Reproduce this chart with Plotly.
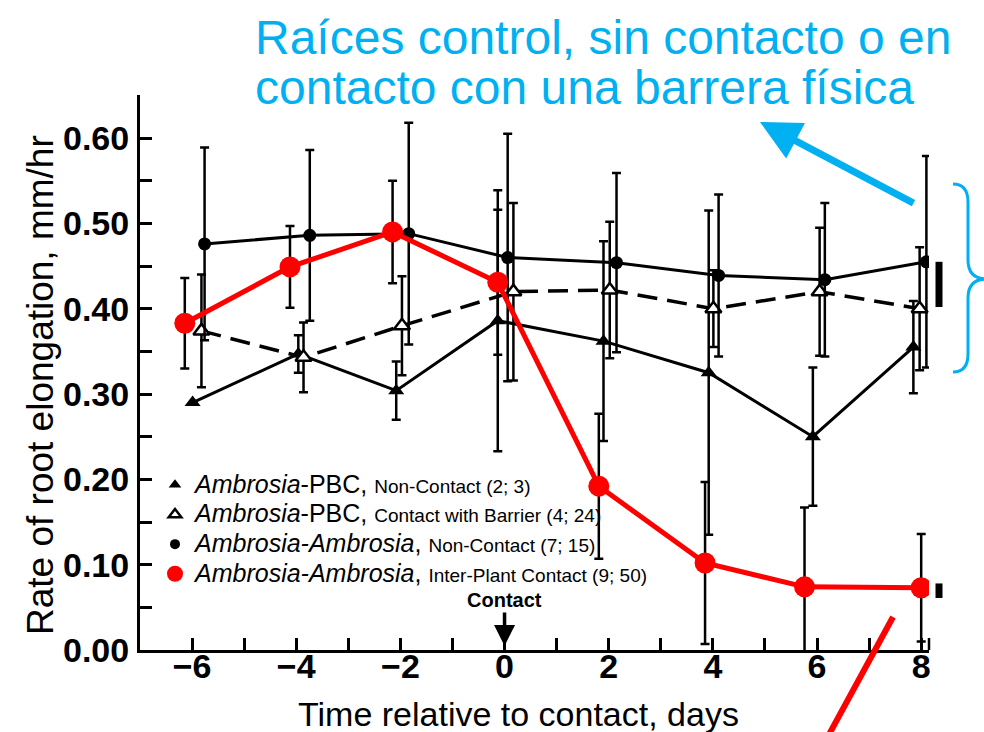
import plotly.graph_objects as go

# ---------------- data ----------------
# x positions are the plotted day values (the original staggers series slightly)
x_pbc_nc = [-5.99, -3.96, -2.08, -0.13, 1.90, 3.92, 5.92, 7.85]
y_pbc_nc = [0.290, 0.347, 0.304, 0.386, 0.362, 0.325, 0.250, 0.355]
e_pbc_nc = [0.0, 0.022, 0.034, 0.153, 0.117, 0.190, 0.081, 0.054]

x_pbc_bar = [-5.82, -3.86, -1.97, 0.17, 2.02, 4.01, 6.05, 7.97]
y_pbc_bar = [0.374, 0.343, 0.380, 0.420, 0.422, 0.400, 0.420, 0.400]
e_pbc_bar = [0.066, 0.041, 0.058, 0.104, 0.080, 0.045, 0.075, 0.072]

x_aa_nc = [-5.76, -3.74, -1.84, 0.06, 2.15, 4.11, 6.15, 8.10]
y_aa_nc = [0.476, 0.486, 0.488, 0.460, 0.454, 0.439, 0.434, 0.455]
e_aa_nc = [0.113, 0.100, 0.130, 0.145, 0.105, 0.095, 0.090, 0.124]

x_aa_c = [-6.14, -4.12, -2.15, -0.13, 1.81, 3.85, 5.76, 8.00]
y_aa_c = [0.383, 0.449, 0.490, 0.431, 0.192, 0.102, 0.074, 0.073]
e_aa_c = [0.053, 0.048, 0.060, 0.085, 0.085, 0.095, 0.093, 0.063]

# least-significant-difference bars at right margin (value ranges)
lsd_low = [0.402, 0.061]
lsd_high = [0.455, 0.078]

names = [
    "<span style='font-size:25px'><i>Ambrosia</i>-PBC, </span><span style='font-size:19px'>Non-Contact (2; 3)</span>",
    "<span style='font-size:25px'><i>Ambrosia</i>-PBC, </span><span style='font-size:19px'>Contact with Barrier (4; 24)</span>",
    "<span style='font-size:25px'><i>Ambrosia-Ambrosia</i>, </span><span style='font-size:19px'>Non-Contact (7; 15)</span>",
    "<span style='font-size:25px'><i>Ambrosia-Ambrosia</i>, </span><span style='font-size:19px'>Inter-Plant Contact (9; 50)</span>",
]

title_lines = ["Raíces control, sin contacto o en", "contacto con una barrera física"]

# ---------------- layout helpers ----------------
W, H = 984, 732
L, R, T, B = 140, 929, 95, 650  # plot area in pixels


def X(px):
    return (px - L) / (R - L)


def Y(py):
    return (B - py) / (B - T)


FONT = "Liberation Sans, Arial, sans-serif"
BLUE = "#00B0F0"

fig = go.Figure()

err_style = dict(type="data", symmetric=True, color="black", thickness=2.5, width=4.5)

fig.add_trace(go.Scatter(
    x=x_pbc_nc, y=y_pbc_nc, mode="lines+markers", showlegend=False,
    line=dict(color="black", width=3),
    marker=dict(symbol="triangle-up", size=14, color="black"),
    error_y=dict(array=e_pbc_nc, **err_style)))

fig.add_trace(go.Scatter(
    x=x_pbc_bar, y=y_pbc_bar, mode="lines+markers", showlegend=False,
    line=dict(color="black", width=3.5, dash="20px,10px"),
    marker=dict(symbol="triangle-up", size=14, color="white", line=dict(color="black", width=2.5)),
    error_y=dict(array=e_pbc_bar, **err_style)))

fig.add_trace(go.Scatter(
    x=x_aa_nc, y=y_aa_nc, mode="lines+markers", showlegend=False,
    line=dict(color="black", width=3),
    marker=dict(symbol="circle", size=13, color="black"),
    error_y=dict(array=e_aa_nc, **err_style)))

fig.add_trace(go.Scatter(
    x=x_aa_c, y=y_aa_c, mode="lines+markers", showlegend=False,
    line=dict(color="#FF0000", width=5),
    marker=dict(symbol="circle", size=21, color="#FF0000"),
    error_y=dict(array=e_aa_c, **err_style)))

# legend-only entries (markers only, as in the reference key)
leg_markers = [
    dict(symbol="triangle-up", size=11, color="black"),
    dict(symbol="triangle-up", size=11, color="white", line=dict(color="black", width=2.5)),
    dict(symbol="circle", size=10, color="black"),
    dict(symbol="circle", size=16, color="#FF0000"),
]
for nm, mk in zip(names, leg_markers):
    fig.add_trace(go.Scatter(x=[None], y=[None], mode="markers", name=nm, marker=mk, showlegend=True))

shapes = []
# right-hand end stub of the x axis
shapes.append(dict(type="line", xref="paper", yref="paper", x0=1, x1=1, y0=0, y1=Y(638),
                   line=dict(color="black", width=2.5)))
# LSD bars
for lo, hi in zip(lsd_low, lsd_high):
    shapes.append(dict(type="line", xref="paper", yref="y", x0=X(939), x1=X(939), y0=lo, y1=hi,
                       line=dict(color="black", width=7)))
# blue brace
brace = (f"M {X(953)},{Y(184)} Q {X(968)},{Y(184)} {X(968)},{Y(202)} L {X(968)},{Y(260)} "
         f"Q {X(968)},{Y(279)} {X(987)},{Y(279)} Q {X(968)},{Y(279)} {X(968)},{Y(298)} "
         f"L {X(968)},{Y(354)} Q {X(968)},{Y(372)} {X(953)},{Y(372)}")
shapes.append(dict(type="path", xref="paper", yref="paper", path=brace,
                   line=dict(color=BLUE, width=3)))
# red pointer line at bottom
shapes.append(dict(type="line", xref="paper", yref="paper", x0=X(893), y0=Y(617), x1=X(826), y1=Y(740),
                   line=dict(color="#FF0000", width=6)))

annotations = [
    dict(xref="paper", yref="paper", x=X(253), y=Y(38), xanchor="left", yanchor="middle",
         text=title_lines[0], showarrow=False, font=dict(family=FONT, size=48, color=BLUE)),
    dict(xref="paper", yref="paper", x=X(253), y=Y(88), xanchor="left", yanchor="middle",
         text=title_lines[1], showarrow=False, font=dict(family=FONT, size=48, color=BLUE)),
    # blue arrow
    dict(xref="paper", yref="paper", x=X(760), y=Y(122), ax=155, ay=82, text="",
         showarrow=True, arrowhead=2, arrowsize=1.15, arrowwidth=7, arrowcolor=BLUE),
    # Contact marker
    dict(xref="x", yref="paper", x=0, y=Y(646), ax=0, ay=-46, text="<b>Contact</b>",
         showarrow=True, arrowhead=2, arrowsize=1.2, arrowwidth=3.5, arrowcolor="black",
         font=dict(family=FONT, size=20, color="black")),
    # axis titles
    dict(xref="paper", yref="paper", x=X(40), y=Y(385), textangle=-90, showarrow=False,
         text="Rate of root elongation, mm/hr", font=dict(family=FONT, size=37, color="black"),
         xanchor="center", yanchor="middle"),
    dict(xref="paper", yref="paper", x=X(518), y=Y(714), showarrow=False,
         text="Time relative to contact, days", font=dict(family=FONT, size=34, color="black"),
         xanchor="center", yanchor="middle"),
]

fig.update_layout(
    width=W, height=H,
    margin=dict(l=L, r=W - R, t=T, b=H - B, pad=0),
    paper_bgcolor="white", plot_bgcolor="white",
    font=dict(family=FONT, color="black"),
    shapes=shapes, annotations=annotations,
    legend=dict(x=X(155), y=Y(465), xanchor="left", yanchor="top",
                bgcolor="rgba(0,0,0,0)", font=dict(family=FONT, size=20.5, color="black"),
                tracegroupgap=0, itemwidth=30),
)

fig.update_xaxes(
    range=[-7, 8.15], tick0=0, dtick=2, showgrid=False, zeroline=False,
    showline=True, linecolor="black", linewidth=3,
    ticks="inside", ticklen=12, tickwidth=2.5, tickcolor="black",
    ticklabelstandoff=-16,
    tickfont=dict(family=FONT, size=34, color="black", weight="bold"),
    minor=dict(dtick=1, ticks="inside", ticklen=12, tickwidth=2.5, tickcolor="black"),
)
fig.update_yaxes(
    range=[0, 0.6505], tick0=0, dtick=0.1, tickformat=".2f", showgrid=False, zeroline=False,
    showline=True, linecolor="black", linewidth=3,
    ticks="inside", ticklen=12, tickwidth=2.5, tickcolor="black",
    ticklabelstandoff=1,
    tickfont=dict(family=FONT, size=34, color="black", weight="bold"),
    minor=dict(dtick=0.05, ticks="inside", ticklen=12, tickwidth=2.5, tickcolor="black"),
)

fig.write_html("out.html")
